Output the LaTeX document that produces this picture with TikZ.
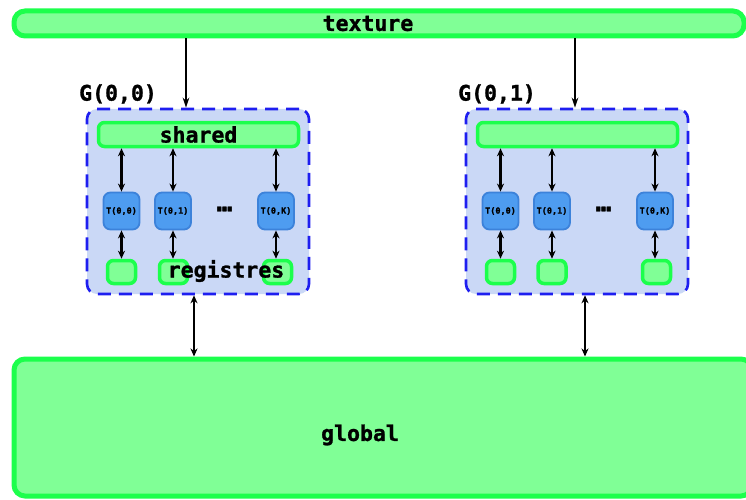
\documentclass[tikz,border=0pt]{standalone}
\usepackage{fontspec}
\newfontfamily\monof{DejaVu Sans Mono}[BoldFeatures={FakeBold=1.2}]
\usetikzlibrary{arrows.meta}
\definecolor{gborder}{RGB}{28,255,76}
\definecolor{gfill}{RGB}{128,255,150}
\definecolor{bfill}{RGB}{202,216,246}
\definecolor{bdash}{RGB}{30,30,240}
\definecolor{tfill}{RGB}{78,156,240}
\definecolor{tborder}{RGB}{60,130,218}
\tikzset{
  x=1pt, y=-1pt,
  every node/.style={font=\monof\bfseries\fontsize{21.5}{23}\selectfont, inner sep=0pt},
  bar/.style={draw=gborder, fill=gfill, line width=5pt, rounded corners=11pt},
  sharedbox/.style={draw=gborder, fill=gfill, line width=3.5pt, rounded corners=6pt, minimum width=200pt, minimum height=24pt},
  regbox/.style={draw=gborder, fill=gfill, line width=3.5pt, rounded corners=6pt, minimum width=28pt, minimum height=23pt},
  tbox/.style={draw=tborder, fill=tfill, line width=1.8pt, rounded corners=7pt, minimum width=36pt, minimum height=37pt, font=\monof\bfseries\fontsize{8.5}{9}\selectfont},
  gbox/.style={draw=bdash, fill=bfill, line width=2.6pt, dash pattern=on 13pt off 8pt, rounded corners=10pt, minimum width=222pt, minimum height=185pt},
  dbl/.style={line width=2.8pt, {Stealth[length=8pt,width=7pt,inset=2.5pt]}-{Stealth[length=8pt,width=7pt,inset=2.5pt]}},
  onearrow/.style={line width=2.2pt, -{Stealth[length=10pt,width=6.5pt,inset=3pt]}},
  dots/.style={font=\monof\bfseries\fontsize{26}{26}\selectfont},
}
\begin{document}
\begin{tikzpicture}
\useasboundingbox (0,0) rectangle (746,500);
% texture bar
\node[bar, minimum width=730pt, minimum height=25pt, label={[xshift=-11pt]center:texture}] (texture) at (379,23.5) {};
% global bar
\node[bar, minimum width=738pt, minimum height=137pt, label={[xshift=-23pt,yshift=-7.5pt]center:global}] (global) at (383,427.5) {};

% group 0
\node[gbox] (G0) at (198,201.5) {};
\node[anchor=west] (G0lab) at (79,94) {G(0,0)};
\node[sharedbox] (S0) at (198.5,134.5) {shared};
\node[tbox] (T00) at (121.5,211) {T(0,0)};
\node[tbox] (T01) at (173,211) {T(0,1)};
\node[tbox] (T0K) at (276,211) {T(0,K)};
\node[dots] (D0) at (224.5,209) {…};
\node[regbox] (R00) at (121.5,272) {};
\node[regbox] (R01) at (173.5,272) {};
\node[regbox] (R0K) at (277.5,272) {};
\node (reglab) at (226,271) {registres};

% group 1
\node[gbox] (G1) at (577,201.5) {};
\node[anchor=west] (G1lab) at (458,94) {G(0,1)};
\node[sharedbox] (S1) at (577.5,134.5) {};
\node[tbox] (T10) at (500.5,211) {T(0,0)};
\node[tbox] (T11) at (552,211) {T(0,1)};
\node[tbox] (T1K) at (655,211) {T(0,K)};
\node[dots] (D1) at (603.5,209) {…};
\node[regbox] (R10) at (500.5,272) {};
\node[regbox] (R11) at (552,272) {};
\node[regbox] (R1K) at (656.5,272) {};

% arrows shared <-> threads <-> registers
\foreach \s/\t/\r in {S0/T00/R00, S0/T01/R01, S0/T0K/R0K, S1/T10/R10, S1/T11/R11, S1/T1K/R1K}{
  \draw[dbl] (\s.south -| \t.north) -- (\t.north);
  \draw[dbl] (\t.south) -- (\r.north -| \t.south);
}

% texture -> groups
\coordinate (tx0) at (186,0);
\coordinate (tx1) at (575,0);
\draw[onearrow] (texture.south -| tx0) -- (G0.north -| tx0);
\draw[onearrow] (texture.south -| tx1) -- (G1.north -| tx1);

% groups <-> global
\coordinate (gx0) at (194,0);
\coordinate (gx1) at (585,0);
\draw[dbl] (G0.south -| gx0) -- (global.north -| gx0);
\draw[dbl] (G1.south -| gx1) -- (global.north -| gx1);
\end{tikzpicture}
\end{document}
